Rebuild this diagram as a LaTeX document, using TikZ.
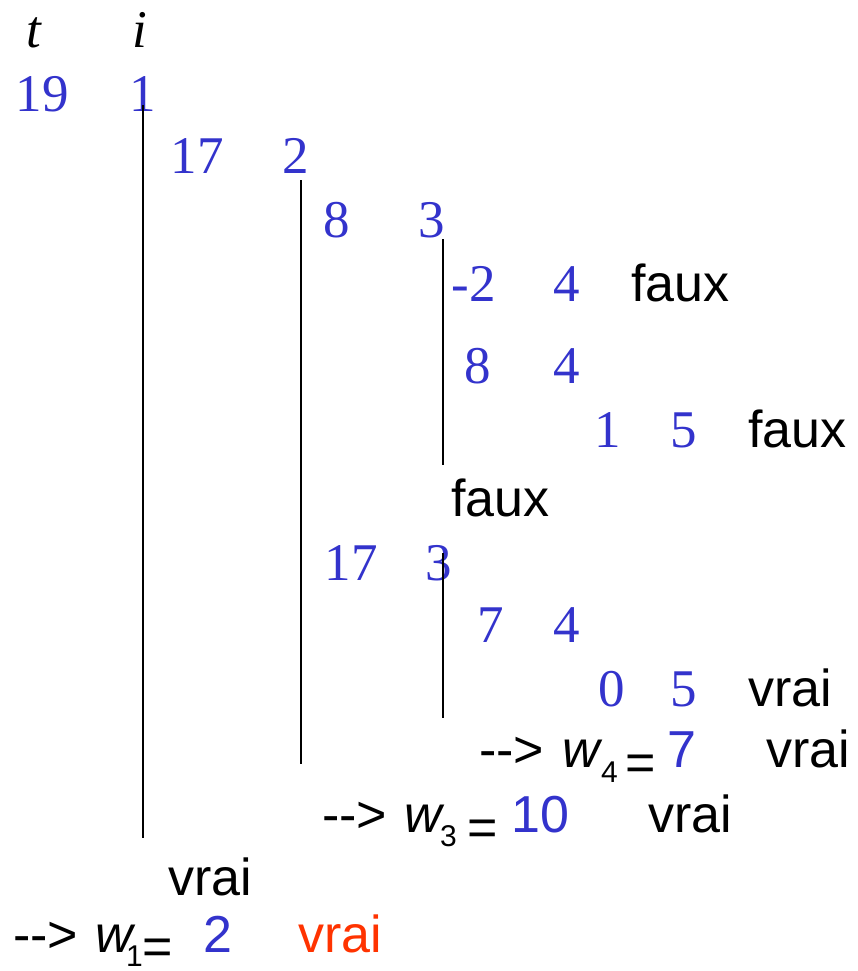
\documentclass[tikz,border=0pt]{standalone}
\usepackage{fontspec}
\setmainfont{Liberation Sans}
\newfontfamily\tnr{Liberation Serif}
\definecolor{numblue}{RGB}{51,51,204}
\definecolor{resred}{RGB}{255,51,0}
\newcommand{\arrowtxt}{{-}{-}>}
\begin{document}
\begin{tikzpicture}[x=1pt,y=-1pt,
  num/.style={font=\tnr\fontsize{53}{60}\selectfont, text=numblue, inner sep=0pt, anchor=base},
  var/.style={font=\tnr\itshape\fontsize{53}{60}\selectfont, inner sep=0pt, anchor=base},
  word/.style={font=\fontsize{52}{60}\selectfont, inner sep=0pt, anchor=base west},
  bnum/.style={word, text=numblue},
  wvar/.style={word, font=\itshape\fontsize{52}{60}\selectfont},
  subs/.style={font=\fontsize{30}{36}\selectfont, inner sep=0pt, anchor=base west},
  trace/.style={line width=1.5pt, black}]
\useasboundingbox (0,0) rectangle (858,971);
% header
\node[var] (tlab) at (34,48) {t};
\node[var] (ilab) at (140,48) {i};
% calls
\node[num] (t1) at (42,112) {19};
\node[num] (i1) at (143,112) {1};
\node[num] (t2) at (197,173) {17};
\node[num] (i2) at (296,173) {2};
\node[num] (t3) at (337,237) {8};
\node[num] (i3) at (432,237) {3};
\node[num] (t4a) at (474,301) {-2};
\node[num] (i4a) at (567,301) {4};
\node[word] (fa1) at (631,301) {faux};
\node[num] (t4b) at (478,383) {8};
\node[num] (i4b) at (567,383) {4};
\node[num] (t5a) at (608,447) {1};
\node[num] (i5a) at (684,447) {5};
\node[word] (fa2) at (748,447) {faux};
\node[word] (fa3) at (451,516) {faux};
\node[num] (t3b) at (351,580) {17};
\node[num] (i3b) at (439,580) {3};
\node[num] (t4c) at (491,642) {7};
\node[num] (i4c) at (567,642) {4};
\node[num] (t5b) at (612,706) {0};
\node[num] (i5b) at (684,706) {5};
\node[word] (vr1) at (748,706) {vrai};
% w4 row
\node[word] (ar4) at (479,767) {\arrowtxt};
\node[wvar] (w4) at (562,767) {w};
\node[subs] (s4) at (601,782) {4};
\node[word] (eq4) at (625,780) {=};
\node[bnum] (v4) at (667,767) {7};
\node[word] (vr2) at (766,767) {vrai};
% w3 row
\node[word] (ar3) at (322,832) {\arrowtxt};
\node[wvar] (w3) at (404,832) {w};
\node[subs] (s3) at (440,846) {3};
\node[word] (eq3) at (467,845) {=};
\node[bnum] (v3) at (511,832) {10};
\node[word] (vr3) at (648,832) {vrai};
% bottom
\node[word] (vr4) at (168,895) {vrai};
\node[word] (ar1) at (13,952) {\arrowtxt};
\node[wvar] (w1) at (95,952) {w};
\node[subs] (s1) at (126,966) {1};
\node[word] (eq1) at (142,964) {=};
\node[bnum] (v1) at (203,952) {2};
\node[word, text=resred] (vr5) at (298,952) {vrai};
% trace lines
\coordinate (a1) at (143,105); \coordinate (b1) at (143,838);
\coordinate (a2) at (301,180); \coordinate (b2) at (301,764);
\coordinate (a3) at (443,239); \coordinate (b3) at (443,465);
\coordinate (a4) at (443,553); \coordinate (b4) at (443,718);
\draw[trace] (a1) -- (b1);
\draw[trace] (a2) -- (b2);
\draw[trace] (a3) -- (b3);
\draw[trace] (a4) -- (b4);
\end{tikzpicture}
\end{document}
